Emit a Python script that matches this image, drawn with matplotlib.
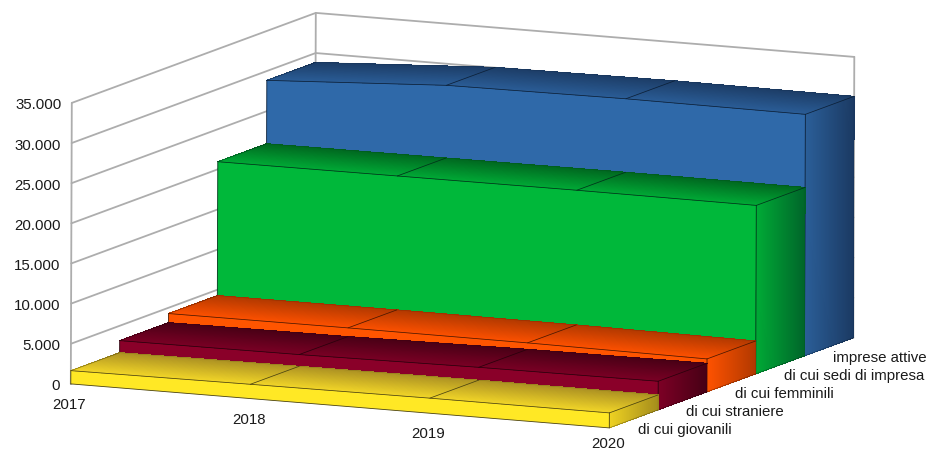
import itertools

import matplotlib
matplotlib.use("Agg")
import matplotlib.pyplot as plt
from matplotlib.collections import PolyCollection
from matplotlib.colors import to_rgb
import numpy as np

plt.rcParams["font.family"] = ["Liberation Sans", "DejaVu Sans"]

years = ["2017", "2018", "2019", "2020"]
series_names = ["di cui giovanili", "di cui straniere", "di cui femminili",
                "di cui sedi di impresa", "imprese attive"]
giovanili = [1650, 1780, 1880, 1870]
straniere = [3150, 3240, 3480, 3570]
femminili = [4280, 4320, 4280, 4110]
sedi = [20950, 21000, 21050, 20990]
attive = [28840, 30050, 30200, 30090]
series_values = [giovanili, straniere, femminili, sedi, attive]
value_ticks = [0, 5000, 10000, 15000, 20000, 25000, 30000, 35000]
tick_labels = ["0", "5.000", "10.000", "15.000", "20.000", "25.000", "30.000", "35.000"]

# front, top (back to front), side (left to right), outline
palette = [
    ("#ffe825", ("#ab9022", "#f0d428"), ("#efd322", "#a58d1c"), "#4a4210"),
    ("#8a0029", ("#470015", "#790024"), ("#7d0025", "#470015"), "#2a000c"),
    ("#ff5500", ("#b03800", "#fb5000"), ("#ff5200", "#b23900"), "#4a1800"),
    ("#00b83a", ("#00661f", "#00a835"), ("#00ab36", "#00662a"), "#00331a"),
    ("#2f69a9", ("#1c3c66", "#2a5c95"), ("#2b5f99", "#1b3a63"), "#0c2038"),
]
GRID = "#adadad"

# parallel projection of (year index, depth slot, value) on to the figure, in pixels
ORIGIN = np.array([70.8, 384.9])
YEAR_STEP = np.array([179.5, 14.67])
DEPTH_STEP = np.array([48.8, -18.0])
VALUE_STEP = np.array([1.0, -281.0]) / 35000

layer = itertools.count(1)


def project(i, d, v):
    return ORIGIN + i * YEAR_STEP + d * DEPTH_STEP + v * VALUE_STEP


def shaded(ax, p0, p1, q0, q1, colors, n=48):
    # quad with a linear colour ramp running from edge p0-p1 to edge q0-q1
    c0, c1 = np.array(to_rgb(colors[0])), np.array(to_rgb(colors[1]))
    polys, cols = [], []
    for k in range(n):
        a, b = k / n, (k + 1) / n
        polys.append([p0 + (q0 - p0) * a, p1 + (q1 - p1) * a,
                      p1 + (q1 - p1) * b, p0 + (q0 - p0) * b])
        cols.append(c0 + (c1 - c0) * (a + b) / 2)
    # no antialiasing: neighbouring strips would show seams otherwise
    ax.add_collection(PolyCollection(polys, facecolors=cols, edgecolors="none",
                                     antialiaseds=False, zorder=next(layer)))


def line(ax, pts, color, lw, alpha=1.0):
    pts = np.array(pts)
    ax.plot(pts[:, 0], pts[:, 1], color=color, lw=lw, alpha=alpha,
            solid_capstyle="round", solid_joinstyle="round", zorder=next(layer))


fig = plt.figure(figsize=(9.31, 4.52), dpi=100)
ax = fig.add_axes([0, 0, 1, 1])
ax.set_xlim(0, 931)
ax.set_ylim(452, 0)
ax.axis("off")

n_depth = len(series_values)
last = len(years) - 1

# walls and grid
for v in value_ticks:
    line(ax, [project(0, 0, v), project(0, n_depth, v), project(last, n_depth, v)], GRID, 1.3)
line(ax, [project(0, 0, 0), project(0, 0, value_ticks[-1])], GRID, 1.3)
line(ax, [project(0, n_depth, 0), project(0, n_depth, value_ticks[-1])], GRID, 1.3)
line(ax, [project(last, n_depth, 0), project(last, n_depth, value_ticks[-1])], GRID, 1.3)

# deepest series first so nearer ones paint over it
for d in range(n_depth - 1, -1, -1):
    vals = series_values[d]
    front, top, side, edge = palette[d]

    outline = [project(i, d, vals[i]) for i in range(len(vals))]
    poly = outline + [project(last, d, 0), project(0, d, 0)]
    ax.fill([p[0] for p in poly], [p[1] for p in poly], color=front, lw=0, zorder=next(layer))

    for i in range(last):
        shaded(ax, project(i, d + 1, vals[i]), project(i + 1, d + 1, vals[i + 1]),
               project(i, d, vals[i]), project(i + 1, d, vals[i + 1]), top)
    shaded(ax, project(last, d, vals[-1]), project(last, d, 0),
           project(last, d + 1, vals[-1]), project(last, d + 1, 0), side)

    line(ax, outline, edge, 0.55)
    line(ax, [project(0, d, 0), project(0, d, vals[0])], edge, 0.6)
    line(ax, [project(last, d, 0), project(last, d, vals[-1])], edge, 0.6)
    line(ax, [project(0, d, 0), project(last, d, 0)], edge, 0.6)
    line(ax, [project(last, d, 0), project(last, d + 1, 0)], edge, 0.5, 0.6)
    line(ax, [project(last, d + 1, 0), project(last, d + 1, vals[-1])], edge, 0.4, 0.3)
    line(ax, [project(i, d + 1, vals[i]) for i in range(len(vals))], edge, 0.4, 0.3)
    line(ax, [project(0, d, vals[0]), project(0, d + 1, vals[0])], edge, 0.5, 0.7)
    for i in range(1, len(vals)):
        line(ax, [project(i, d, vals[i]), project(i, d + 1, vals[i])], edge, 0.55)

# axis texts
fs = 10.8
text_z = next(layer)
for v, label in zip(value_ticks, tick_labels):
    p = project(0, 0, v)
    ax.text(p[0] - 10.5, p[1] + 1.5, label, ha="right", va="center", fontsize=fs,
            color="#1a1a1a", zorder=text_z)
for i, label in enumerate(years):
    p = project(i, 0, 0)
    # keep the last year inside the figure's lower edge
    ax.text(p[0] - 1.5, min(p[1] + 20, 444.5), label, ha="center", va="center", fontsize=fs,
            color="#1a1a1a", zorder=text_z)
for d, label in enumerate(series_names):
    p = project(last, d + 0.5, 0)
    ax.text(p[0] + 4, p[1] + 10.5, label, ha="left", va="center", fontsize=fs,
            color="#1a1a1a", zorder=text_z)

fig.savefig("out.png", dpi=100, facecolor="white")
